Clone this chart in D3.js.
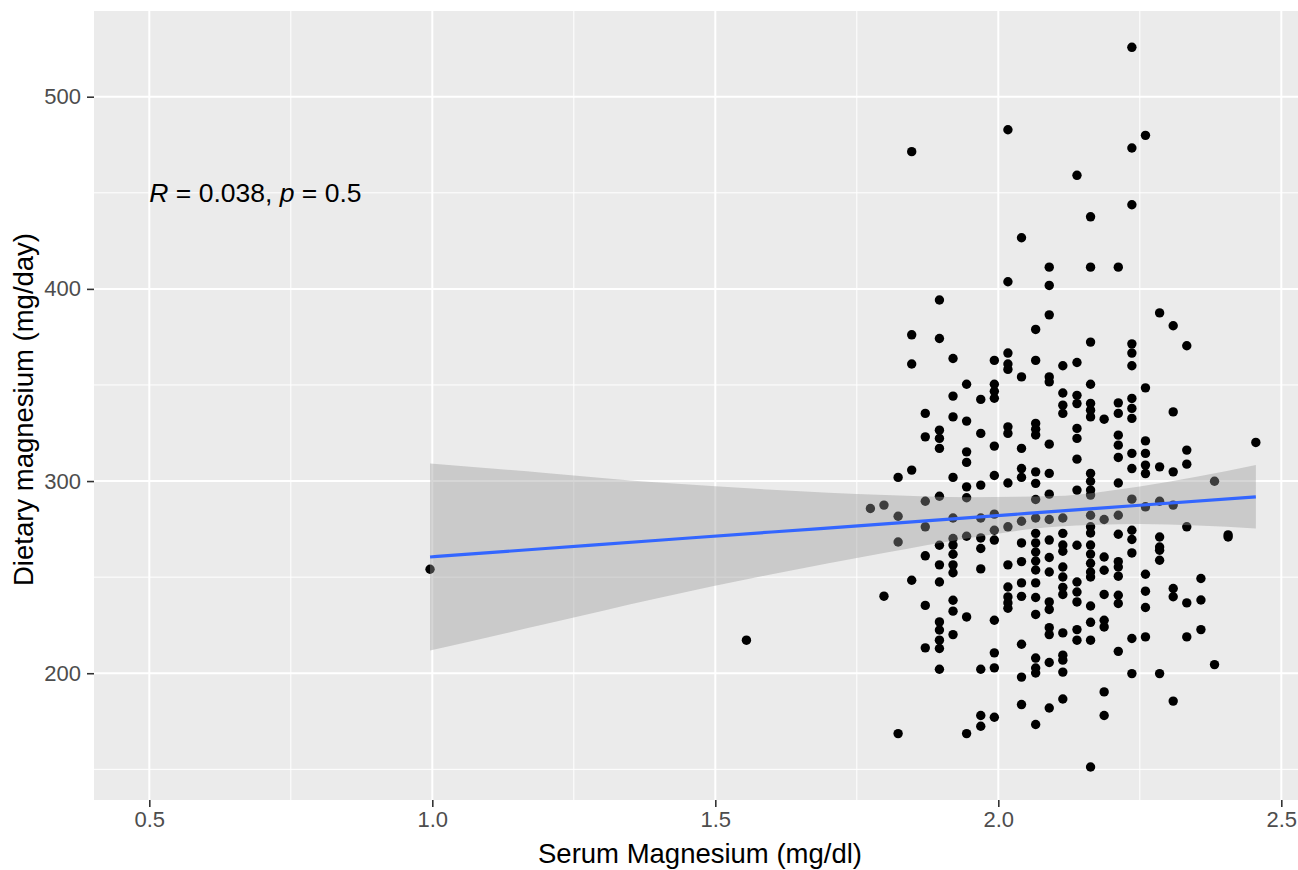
<!DOCTYPE html>
<html>
<head>
<meta charset="utf-8">
<script src="https://cdn.jsdelivr.net/npm/d3@7"></script>
<style>
  body { margin: 0; background: #fff; }
  text { font-family: "Liberation Sans", Arial, sans-serif; }
</style>
</head>
<body>
<div id="chart"></div>
<script>
// serum Mg columns (mg/dl) and the dietary Mg values read at each column
var serumCols = [0.996, 1.555, 1.774, 1.798, 1.823, 1.847, 1.871, 1.896, 1.920, 1.944, 1.969, 1.993, 2.017, 2.041,
    2.066, 2.090, 2.114, 2.139, 2.163, 2.187, 2.212, 2.236, 2.260, 2.285, 2.309, 2.333, 2.358, 2.382, 2.406, 2.455];
var dietaryByCol = [
    [254.1],
    [217.2],
    [285.7],
    [287.5, 240.1],
    [301.9, 281.7, 268.3, 168.6],
    [471.4, 376.1, 360.9, 305.7, 248.4],
    [335.2, 323.0, 289.5, 276.2, 261.1, 235.3, 213.2],
    [394.2, 374.2, 326.5, 322.2, 317.0, 292.1, 266.6, 256.4, 247.5, 226.7, 222.5, 217.2, 212.9, 202.1],
    [363.8, 344.2, 333.4, 301.9, 280.8, 270.1, 266.7, 261.9, 256.4, 252.3, 238.0, 232.3, 220.1],
    [350.4, 331.2, 315.2, 309.7, 297.0, 291.3, 271.3, 229.3, 168.6],
    [342.5, 324.8, 297.9, 280.8, 270.4, 264.9, 254.3, 202.1, 178.0, 172.4],
    [362.8, 350.4, 346.7, 343.1, 318.2, 302.9, 282.8, 274.4, 269.3, 227.6, 210.6, 202.8, 177.1],
    [482.8, 403.7, 366.6, 360.9, 358.1, 328.2, 324.8, 299.0, 276.2, 256.4, 244.9, 239.7, 236.6, 233.8],
    [426.6, 354.2, 317.0, 306.5, 301.9, 279.1, 267.8, 258.1, 247.0, 240.0, 215.1, 198.0, 183.7],
    [378.9, 362.8, 330.0, 327.0, 324.0, 304.8, 298.8, 290.4, 280.8, 272.8, 267.8, 263.1, 258.4, 253.7, 247.0, 239.4,
        230.6, 207.9, 202.7, 200.1, 173.3],
    [411.3, 401.8, 386.5, 354.2, 351.6, 319.2, 304.0, 293.2, 280.0, 269.3, 260.2, 252.7, 237.1, 233.2, 223.7, 220.1,
        205.6, 181.9],
    [360.0, 345.8, 339.5, 335.2, 280.8, 272.8, 266.7, 263.5, 255.3, 250.1, 244.7, 241.0, 221.0, 209.4, 206.8, 200.6, 186.6],
    [459.1, 361.7, 344.6, 340.3, 327.4, 322.2, 311.4, 295.3, 266.6, 247.5, 242.3, 237.1, 222.7, 217.2],
    [437.5, 411.3, 372.3, 350.4, 340.4, 336.9, 333.4, 304.0, 299.9, 295.3, 292.7, 282.2, 276.2, 273.0, 266.7, 262.0,
        257.2, 252.7, 250.1, 235.0, 226.5, 217.2, 151.2],
    [332.2, 280.0, 260.5, 253.6, 241.0, 227.6, 224.1, 190.3, 178.0],
    [411.3, 340.7, 335.2, 323.9, 318.7, 312.3, 299.0, 282.2, 272.3, 258.1, 255.3, 250.5, 240.6, 236.3, 211.4],
    [525.7, 473.3, 443.8, 371.4, 366.6, 360.0, 343.0, 337.8, 332.6, 314.4, 306.5, 290.6, 274.4, 269.6, 262.6, 218.1, 199.8],
    [479.9, 348.5, 320.9, 314.4, 308.3, 303.9, 286.6, 251.5, 242.7, 234.2, 218.9],
    [387.5, 307.4, 289.5, 270.9, 265.7, 264.0, 258.8, 199.8],
    [380.8, 336.0, 304.8, 287.5, 244.1, 239.8, 185.5],
    [370.4, 316.1, 308.8, 276.2, 236.6, 218.9],
    [249.3, 238.1, 222.7],
    [299.9, 204.5],
    [270.9, 272.0],
    [320.1]
];

// lm smooth and its 95% band
var fitX = [0.996, 1.2, 1.4, 1.6, 1.8, 1.95, 2.1, 2.25, 2.455];
var fitY = [260.5, 264.9, 269.2, 273.5, 277.7, 281.0, 284.2, 287.4, 291.8];
var fitLo = [211.8, 225.6, 239.2, 251.5, 262.7, 270.4, 276.2, 277.6, 275.3];
var fitHi = [309.2, 304.2, 299.2, 295.5, 292.7, 291.6, 292.2, 297.2, 308.3];

var xTicks = [0.5, 1.0, 1.5, 2.0, 2.5];
var xMinor = [0.75, 1.25, 1.75, 2.25];
var yTicks = [200, 300, 400, 500];
var yMinor = [150, 250, 350, 450];

var W = 1298, H = 870;
var panel = { left: 94, top: 11, right: 1298, bottom: 800 };

var svg = d3.select("#chart").append("svg")
    .attr("width", W)
    .attr("height", H);

var x = d3.scaleLinear().domain([0.4023, 2.5295]).range([panel.left, panel.right]);
var y = d3.scaleLinear().domain([134.04, 544.6]).range([panel.bottom, panel.top]);

// panel background + grid
svg.append("rect")
    .attr("x", panel.left).attr("y", panel.top)
    .attr("width", panel.right - panel.left).attr("height", panel.bottom - panel.top)
    .attr("fill", "#EBEBEB");

var grid = svg.append("g");
grid.selectAll(".xminor").data(xMinor).enter().append("line")
    .attr("x1", function (d) { return x(d); }).attr("x2", function (d) { return x(d); })
    .attr("y1", panel.top).attr("y2", panel.bottom)
    .attr("stroke", "#fff").attr("stroke-width", 1);
grid.selectAll(".yminor").data(yMinor).enter().append("line")
    .attr("y1", function (d) { return y(d); }).attr("y2", function (d) { return y(d); })
    .attr("x1", panel.left).attr("x2", panel.right)
    .attr("stroke", "#fff").attr("stroke-width", 1);
grid.selectAll(".xmajor").data(xTicks).enter().append("line")
    .attr("x1", function (d) { return x(d); }).attr("x2", function (d) { return x(d); })
    .attr("y1", panel.top).attr("y2", panel.bottom)
    .attr("stroke", "#fff").attr("stroke-width", 2);
grid.selectAll(".ymajor").data(yTicks).enter().append("line")
    .attr("y1", function (d) { return y(d); }).attr("y2", function (d) { return y(d); })
    .attr("x1", panel.left).attr("x2", panel.right)
    .attr("stroke", "#fff").attr("stroke-width", 2);

// points
var points = [];
serumCols.forEach(function (sx, i) {
    dietaryByCol[i].forEach(function (v) {
        points.push({ x: sx, y: v });
    });
});

svg.append("g").selectAll("circle")
    .data(points)
    .enter()
    .append("circle")
    .attr("cx", function (d) { return x(d.x); })
    .attr("cy", function (d) { return y(d.y); })
    .attr("r", 4.7)
    .attr("fill", "#000");

// smooth: band drawn over the points, like geom_smooth
var fitData = fitX.map(function (d, i) {
    return { x: d, y: fitY[i], lo: fitLo[i], hi: fitHi[i] };
});

var band = d3.area()
    .curve(d3.curveMonotoneX)
    .x(function (d) { return x(d.x); })
    .y0(function (d) { return y(d.lo); })
    .y1(function (d) { return y(d.hi); });

svg.append("path")
    .datum(fitData)
    .attr("d", band)
    .attr("fill", "#999999")
    .attr("fill-opacity", 0.4);

var fitLine = d3.line()
    .curve(d3.curveMonotoneX)
    .x(function (d) { return x(d.x); })
    .y(function (d) { return y(d.y); });

svg.append("path")
    .datum(fitData)
    .attr("d", fitLine)
    .attr("fill", "none")
    .attr("stroke", "#3366FF")
    .attr("stroke-width", 3.2);

// axes
var xAxis = svg.append("g")
    .attr("transform", "translate(0," + panel.bottom + ")")
    .call(d3.axisBottom(x).tickValues(xTicks).tickSize(7).tickPadding(4).tickFormat(d3.format(".1f")));
var yAxis = svg.append("g")
    .attr("transform", "translate(" + panel.left + ",0)")
    .call(d3.axisLeft(y).tickValues(yTicks).tickSize(7).tickPadding(6));

[xAxis, yAxis].forEach(function (ax) {
    ax.select(".domain").remove();
    ax.selectAll(".tick line").attr("stroke", "#333333").attr("stroke-width", 1.6);
    ax.selectAll(".tick text")
        .attr("fill", "#4D4D4D")
        .style("font-size", "22px")
        .style("font-family", "'Liberation Sans', Arial, sans-serif");
});

// axis titles
svg.append("text")
    .attr("x", (panel.left + panel.right) / 2 + 4)
    .attr("y", 863)
    .attr("text-anchor", "middle")
    .style("font-size", "27.5px")
    .text("Serum Magnesium (mg/dl)");

svg.append("text")
    .attr("transform", "translate(33," + ((panel.top + panel.bottom) / 2 + 4) + ") rotate(-90)")
    .attr("text-anchor", "middle")
    .style("font-size", "27.5px")
    .text("Dietary magnesium (mg/day)");

// correlation label
var label = svg.append("text")
    .attr("x", x(0.5))
    .attr("y", y(450))
    .attr("dy", "0.35em")
    .style("font-size", "26.5px");
label.append("tspan").style("font-style", "italic").text("R");
label.append("tspan").text(" = 0.038, ");
label.append("tspan").style("font-style", "italic").text("p");
label.append("tspan").text(" = 0.5");
</script>
</body>
</html>
